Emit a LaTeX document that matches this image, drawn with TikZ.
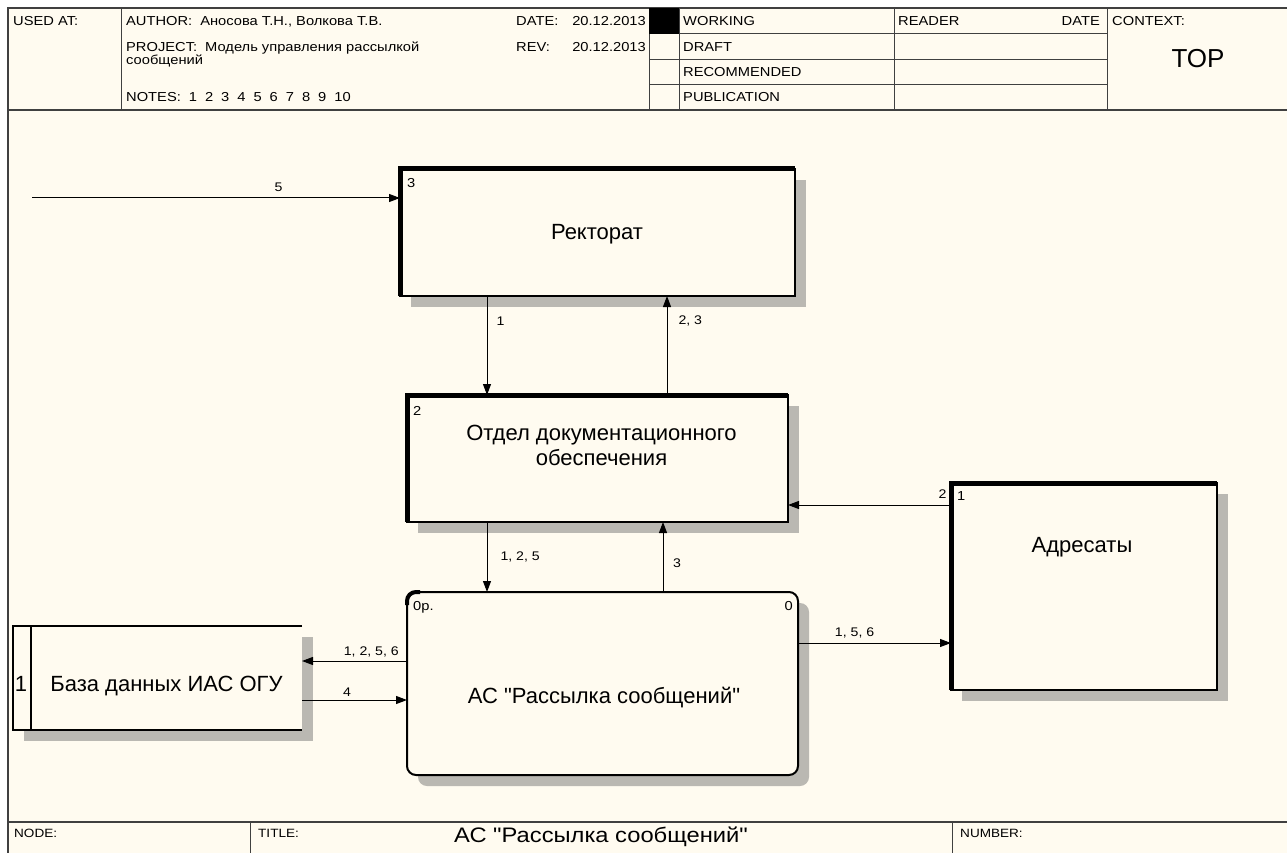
\documentclass[tikz,border=0pt]{standalone}
\usepackage{fontspec}
\setmainfont{Liberation Sans}
\newfontfamily\widesans{Liberation Sans}[FakeStretch=1.13]
\newfontfamily\plainsans{Liberation Sans}
\usetikzlibrary{arrows.meta,positioning,shadows}
\definecolor{paper}{RGB}{255,251,240}
\definecolor{shade}{RGB}{186,184,178}
\definecolor{rulecol}{RGB}{64,64,64}
\tikzset{>={Triangle[length=11pt,width=8pt]}}

\begin{document}
\begin{tikzpicture}[x=1pt,y=-1pt,
    flow/.style={->,line width=1pt},
    lbl/.style={font=\widesans\fontsize{12.5}{14}\selectfont,inner sep=1pt},
    hdr/.style={font=\widesans\fontsize{13}{15}\selectfont,inner sep=0pt,anchor=base west},
    ftr/.style={font=\widesans\fontsize{12}{14}\selectfont,inner sep=0pt,anchor=base west},
    boxnum/.style={font=\widesans\fontsize{13}{15}\selectfont,inner sep=0pt,anchor=base west},
    boxtext/.style={font=\plainsans\fontsize{22}{25}\selectfont,inner sep=0pt,anchor=base,align=center},
    shaded/.style={general shadow={fill=shade,shadow xshift=11pt,shadow yshift=-11pt}},
    procbox/.style={draw,line width=2.5pt,fill=paper,inner sep=0pt,outer sep=0pt,shaded},
    storebox/.style={fill=paper,inner sep=0pt,outer sep=0pt,shaded},
    heavy/.style={line width=5pt,line join=miter}]
    \useasboundingbox (0,0) rectangle (1287,853);
    \fill[white] (0,0) rectangle (1287,853);
    \fill[paper] (8,8) rectangle (1287,853);

    % frame
    \draw[rulecol,line width=1.5pt] (8,853) -- (8,8) -- (1287,8) (8,110) -- (1287,110) (8,822) -- (1287,822);
    \foreach \x in {121,649,679,894,1107}
        \draw[rulecol,line width=1pt] (\x,8) -- (\x,110);
    \foreach \y in {34,60,85}
        \draw[rulecol,line width=1pt] (649,\y) -- (1107,\y);
    \fill[black] (649,8) rectangle (679,34);
    \foreach \x in {250,952}
        \draw[rulecol,line width=1pt] (\x,822) -- (\x,853);

    % header
    \node[hdr] (usedat) at (13,26) {USED AT:};
    \node[hdr] (author) at (126,26) {AUTHOR:\hspace{8pt}Аносова Т.Н., Волкова Т.В.};
    \node[hdr] (project) at (126,51.5) {PROJECT:\hspace{8pt}Модель управления рассылкой};
    \node[hdr] (project2) at (126,65) {сообщений};
    \node[hdr] (notes) at (126,101.5) {NOTES:\hspace{8pt}1\hspace{8pt}2\hspace{8pt}3\hspace{8pt}4\hspace{8pt}5\hspace{8pt}6\hspace{8pt}7\hspace{8pt}8\hspace{8pt}9\hspace{8pt}10};
    \node[hdr] (date) at (516,26) {DATE:};
    \node[hdr,anchor=base east] (dateval) at (646,26) {20.12.2013};
    \node[hdr] (rev) at (516,51.5) {REV:};
    \node[hdr,anchor=base east] (revval) at (646,51.5) {20.12.2013};
    \node[hdr] (working) at (683,26) {WORKING};
    \node[hdr] (draft) at (683,51.5) {DRAFT};
    \node[hdr] (recommended) at (683,76.5) {RECOMMENDED};
    \node[hdr] (publication) at (683,101.5) {PUBLICATION};
    \node[hdr] (reader) at (898,26) {READER};
    \node[hdr,anchor=base east] (readerdate) at (1100,26) {DATE};
    \node[hdr] (context) at (1112,26) {CONTEXT:};
    \node[font=\plainsans\fontsize{26}{30}\selectfont,inner sep=0pt,anchor=base] (top) at (1198,68) {TOP};

    % footer
    \node[ftr] (nodelbl) at (14,837.5) {NODE:};
    \node[ftr] (titlelbl) at (258,837.5) {TITLE:};
    \node[ftr] (numberlbl) at (960,837.5) {NUMBER:};
    \node[font=\widesans\fontsize{21}{24}\selectfont,inner sep=0pt,anchor=base] (title) at (601,842) {АС "Рассылка сообщений"};

    % boxes
    \node[procbox,minimum width=395pt,minimum height=127pt] (rek) at (597.5,232.5) {};
    \draw[heavy] (rek.south west) |- (rek.north east);
    \node[boxtext] (rektxt) at (597,240) {Ректорат};
    \node[boxnum] (rekno) at (407,188) {3};

    \node[procbox,minimum width=381pt,minimum height=127pt] (otd) at (597.5,458.5) {};
    \draw[heavy] (otd.south west) |- (otd.north east);
    \node[boxtext,anchor=north] (otdtxt) at (601.5,425) {Отдел документационного\\обеспечения};
    \node[boxnum] (otdno) at (413,415) {2};

    \node[procbox,line width=2pt,rounded corners=9pt,minimum width=391pt,minimum height=183pt] (ac) at (602.5,683.5) {};
    \draw[line width=4pt,rounded corners=9pt] ([yshift=-13pt]ac.north west) |- ([xshift=13pt]ac.north west);
    \node[boxtext] (actxt) at (604,703) {АС "Рассылка сообщений"};
    \node[boxnum] (acno) at (413,610) {0р.};
    \node[boxnum,anchor=base east] (acnum) at (793,610) {0};

    \node[procbox,minimum width=266pt,minimum height=207pt] (adr) at (1084,586.5) {};
    \draw[heavy] (adr.south west) |- (adr.north east);
    \node[boxtext] (adrtxt) at (1082,552) {Адресаты};
    \node[boxnum] (adrno) at (957,500) {1};

    \node[storebox,minimum width=18pt,minimum height=104pt] (dbno) at (22,678) {};
    \node[storebox,minimum width=271pt,minimum height=104pt] (db) at (166.5,678) {};
    \draw[line width=2.3pt] (db.north east) -- (dbno.north west) -- (dbno.south west) -- (db.south east)
        (dbno.north east) -- (dbno.south east);
    \node[boxtext] (dbtxt) at (166.5,691) {База данных ИАС ОГУ};
    \node[boxtext] (dbnotxt) at (21,691) {1};

    % arrows
    \coordinate (src5) at (32,198);
    \draw[flow] (src5) -- (src5 -| rek.west) node[lbl,pos=.67,above=5pt] (l5) {5};
    \draw[flow] ([xshift=-110.5pt]rek.south) coordinate (r1) -- (r1 |- otd.north) node[lbl,pos=.25,right=8pt] (l1) {1};
    \draw[flow] ([xshift=69.5pt]otd.north) coordinate (r23) -- (r23 |- rek.south) node[lbl,pos=.75,right=10pt] (l23) {2, 3};
    \draw[flow] ([xshift=-110.5pt]otd.south) coordinate (r125) -- (r125 |- ac.north) node[lbl,pos=.5,right=12pt] (l125) {1, 2, 5};
    \draw[flow] ([xshift=60.5pt]ac.north) coordinate (r3) -- (r3 |- otd.south) node[lbl,pos=.41,right=8.5pt] (l3) {3};
    \draw[flow] ([yshift=81.5pt]adr.west) coordinate (r2) -- (r2 -| otd.east) node[lbl,pos=0,above left=5pt and 3pt] (l2) {2};
    \draw[flow] ([yshift=40.5pt]ac.east) coordinate (r156) -- (r156 -| adr.west) node[lbl,pos=.37,above=3pt] (l156) {1, 5, 6};
    \draw[flow] ([yshift=22.5pt]ac.west) coordinate (r1256) -- (r1256 -| db.east) node[lbl,pos=.34,above=2pt] (l1256) {1, 2, 5, 6};
    \draw[flow] ([yshift=-22pt]db.east) coordinate (r4) -- (r4 -| ac.west) node[lbl,pos=.43,above=2pt] (l4) {4};
\end{tikzpicture}
\end{document}
